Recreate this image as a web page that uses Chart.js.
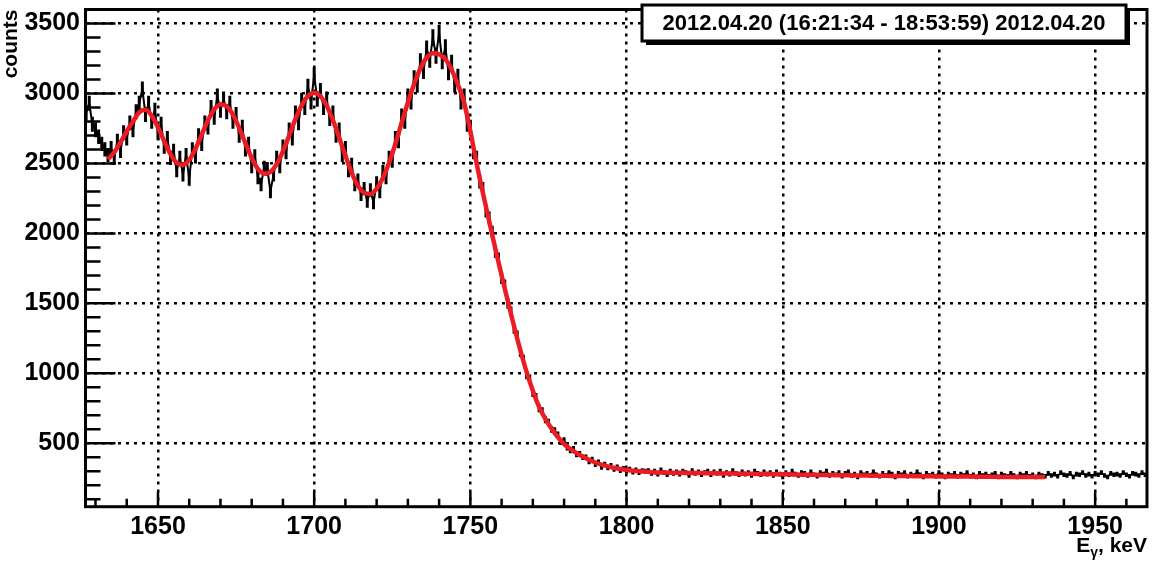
<!doctype html>
<html>

<head>
	<meta charset="utf-8">
	<title>Spectrum fit</title>
	<script src="https://cdn.jsdelivr.net/npm/chart.js@4"></script>
	<style>
		body { margin: 0; background: #fff; }
	</style>
</head>

<body>
	<canvas id="chart-area" width="1155" height="567"></canvas>

	<script>
		// measured spectrum, 1 keV bins starting at 1627 keV
		var dataStart = 1627;
		var dataStep = 1;
		var counts = [
			2860, 2930, 2780, 2740, 2690, 2640, 2600, 2560, 2610, 2540,
			2660, 2590, 2720, 2680, 2790, 2740, 2870, 2930, 3030, 2850,
			2930, 2800, 2880, 2720, 2780, 2620, 2680, 2540, 2590, 2450,
			2540, 2420, 2560, 2390, 2600, 2550, 2700, 2640, 2790, 2760,
			2900, 2830, 2980, 2880, 2960, 2870, 2930, 2800, 2850, 2700,
			2760, 2600, 2640, 2480, 2550, 2400, 2350, 2470, 2460, 2300,
			2420, 2540, 2480, 2620, 2580, 2740, 2680, 2860, 2790, 2950,
			2900, 3050, 2940, 3130, 2960, 3020, 2900, 2960, 2820, 2860,
			2700, 2740, 2560, 2610, 2450, 2490, 2350, 2380, 2280, 2320,
			2230, 2310, 2220, 2360, 2300, 2440, 2400, 2540, 2520, 2680,
			2660, 2840, 2800, 2980, 2940, 3110, 3060, 3230, 3160, 3320,
			3240, 3400, 3270, 3430, 3230, 3330, 3150, 3220, 3060, 3120,
			2940, 2980, 2780, 2760, 2580, 2540, 2370, 2320, 2160, 2110,
			2010, 1870, 1820, 1680, 1630, 1500, 1440, 1320, 1270, 1150,
			1100, 990, 960, 860, 830, 750, 730, 670, 650, 600,
			590, 560, 510, 520, 470, 450, 460, 420, 425, 400,
			400, 370, 385, 350, 365, 330, 350, 325, 340, 315,
			330, 305, 320, 300, 315, 295, 310, 290, 305, 300,
			305, 285, 300, 280, 310, 290, 275, 300, 285, 295,
			280, 300, 290, 270, 305, 285, 295, 275, 290, 300,
			275, 295, 285, 300, 270, 290, 280, 305, 285, 275,
			295, 280, 290, 270, 300, 285, 275, 295, 280, 290,
			270, 295, 280, 260, 290, 275, 300, 280, 270, 290,
			285, 270, 295, 275, 265, 290, 280, 300, 270, 285,
			275, 290, 265, 285, 295, 270, 280, 260, 290, 275,
			285, 270, 295, 275, 265, 285, 270, 290, 280, 260,
			285, 275, 290, 265, 280, 270, 295, 275, 260, 285,
			270, 280, 265, 290, 275, 260, 280, 270, 285, 265,
			280, 270, 290, 265, 275, 260, 285, 270, 280, 265,
			275, 285, 260, 280, 270, 265, 285, 270, 260, 280,
			270, 285, 265, 275, 260, 280, 270, 265, 285, 270,
			280, 265, 290, 275, 270, 285, 260, 280, 275, 290,
			270, 280, 265, 285, 275, 290, 270, 260, 285, 275,
			280, 270, 290, 275, 265, 285, 280, 270, 290, 275,
		];

		// fit curve, sampled every 2 keV from 1634 keV
		var fitStart = 1634;
		var fitStep = 2;
		var fitValues = [
			2530, 2580, 2650, 2730, 2800, 2865, 2883, 2840, 2759, 2659,
			2567, 2504, 2490, 2525, 2604, 2706, 2808, 2887, 2922, 2909,
			2849, 2753, 2644, 2539, 2461, 2426, 2439, 2495, 2587, 2700,
			2817, 2915, 2982, 3005, 2980, 2914, 2809, 2686, 2555, 2435,
			2341, 2290, 2282, 2320, 2396, 2507, 2639, 2790, 2935, 3068,
			3179, 3255, 3288, 3280, 3245, 3170, 3065, 2935, 2730, 2500,
			2290, 2090, 1890, 1700, 1515, 1335, 1165, 1010, 875, 760,
			675, 605, 545, 495, 460, 430, 405, 382, 363, 348,
			335, 325, 316, 309, 304, 300, 297, 294, 292, 291,
			290, 290, 289, 288, 288, 287, 286, 286, 285, 284,
			284, 283, 282, 282, 281, 280, 280, 279, 278, 278,
			277, 276, 276, 275, 274, 274, 273, 272, 272, 271,
			270, 270, 269, 268, 268, 267, 267, 266, 266, 265,
			265, 264, 264, 263, 263, 263, 262, 262, 262, 261,
			261, 261, 261, 260, 260, 260, 260, 260, 260, 260,
			260,
		];

		var xTicks = [1650, 1700, 1750, 1800, 1850, 1900, 1950];
		var yTicks = [500, 1000, 1500, 2000, 2500, 3000, 3500];
		var xRange = [1626.8, 1966.6];
		var yRange = [47, 3600];
		var xMinorStep = 10;
		var yMinorStep = 100;

		var yTitle = 'counts';
		var boxText = '2012.04.20 (16:21:34 - 18:53:59) 2012.04.20';

		var dataPoints = counts.map(function (c, i) {
			return { x: dataStart + i * dataStep, y: c };
		});
		var fitPoints = fitValues.map(function (v, i) {
			return { x: fitStart + i * fitStep, y: v };
		});

		var FONT = '"Liberation Sans", Arial, sans-serif';

		// ROOT-like frame: error bars, inward ticks, box, axis title with subscript
		var rootLook = {
			id: 'rootLook',
			beforeDatasetsDraw: function (chart) {
				var ctx = chart.ctx, xs = chart.scales.x, ys = chart.scales.y, a = chart.chartArea;
				ctx.save();
				ctx.beginPath();
				ctx.rect(a.left, a.top, a.right - a.left, a.bottom - a.top);
				ctx.clip();
				ctx.strokeStyle = '#000';
				ctx.lineWidth = 3;
				ctx.beginPath();
				counts.forEach(function (c, i) {
					var px = xs.getPixelForValue(dataStart + i * dataStep);
					var e = Math.sqrt(c);
					ctx.moveTo(px, ys.getPixelForValue(c - e));
					ctx.lineTo(px, ys.getPixelForValue(c + e));
				});
				ctx.stroke();
				ctx.restore();
			},
			afterDatasetsDraw: function (chart) {
				var ctx = chart.ctx, xs = chart.scales.x, ys = chart.scales.y, a = chart.chartArea;
				var v, p, len;
				ctx.save();
				ctx.strokeStyle = '#000';
				ctx.lineWidth = 2.5;
				ctx.beginPath();
				for (v = Math.ceil(xRange[0] / xMinorStep) * xMinorStep; v <= xRange[1]; v += xMinorStep) {
					p = xs.getPixelForValue(v);
					len = xTicks.indexOf(v) >= 0 ? 15 : 8;
					ctx.moveTo(p, a.bottom);
					ctx.lineTo(p, a.bottom - len);
				}
				for (v = Math.ceil(yRange[0] / yMinorStep) * yMinorStep; v <= yRange[1]; v += yMinorStep) {
					p = ys.getPixelForValue(v);
					len = yTicks.indexOf(v) >= 0 ? 30 : 15;
					ctx.moveTo(a.left, p);
					ctx.lineTo(a.left + len, p);
				}
				ctx.stroke();
				ctx.lineWidth = 3;
				ctx.strokeRect(a.left, a.top, a.right - a.left, a.bottom - a.top);
				ctx.restore();
			},
			afterDraw: function (chart) {
				var ctx = chart.ctx, a = chart.chartArea;
				ctx.save();
				// date box at the top
				var bw = 484, bh = 36;
				var bx = a.right - 21 - bw, by = a.top - 4.5;
				ctx.fillStyle = '#000';
				ctx.fillRect(bx + 4, by + 4, bw, bh);
				ctx.fillStyle = '#fff';
				ctx.fillRect(bx, by, bw, bh);
				ctx.lineWidth = 3;
				ctx.strokeStyle = '#000';
				ctx.strokeRect(bx, by, bw, bh);
				ctx.fillStyle = '#000';
				ctx.font = 'bold 22px ' + FONT;
				ctx.textAlign = 'center';
				ctx.textBaseline = 'middle';
				ctx.fillText(boxText, bx + bw / 2, by + bh / 2 + 1);

				// x axis title E_gamma, keV
				var big = 'bold 21px ' + FONT, small = 'bold 14px ' + FONT;
				ctx.font = big;
				var w1 = ctx.measureText('E').width, w3 = ctx.measureText(', keV').width;
				ctx.font = small;
				var w2 = ctx.measureText('γ').width;
				var x0 = a.right - (w1 + w2 + w3), base = a.bottom + 45;
				ctx.textAlign = 'left';
				ctx.textBaseline = 'alphabetic';
				ctx.font = big;
				ctx.fillText('E', x0, base);
				ctx.font = small;
				ctx.fillText('γ', x0 + w1, base + 5);
				ctx.font = big;
				ctx.fillText(', keV', x0 + w1 + w2, base);
				ctx.restore();
			}
		};

		Chart.defaults.font.family = FONT;
		Chart.defaults.color = '#000';

		function plainLabel(value) {
			return String(value);
		}

		var ctx = document.getElementById('chart-area').getContext('2d');
		var chart = new Chart(ctx, {
			type: 'line',
			data: {
				datasets: [
					{
						label: 'fit',
						data: fitPoints,
						borderColor: '#ec1c24',
						borderWidth: 4.5,
						pointRadius: 0,
						tension: 0.4,
						cubicInterpolationMode: 'monotone',
					},
					{
						label: 'counts',
						data: dataPoints,
						borderColor: '#000',
						borderWidth: 2,
						pointRadius: 0,
						tension: 0,
					},
				],
			},
			options: {
				responsive: false,
				animation: false,
				layout: { padding: { top: 9.5, right: 8, left: 0, bottom: 0 } },
				plugins: {
					legend: { display: false },
					tooltip: { enabled: false },
				},
				scales: {
					x: {
						type: 'linear',
						min: xRange[0],
						max: xRange[1],
						afterBuildTicks: function (scale) {
							scale.ticks = xTicks.map(function (v) { return { value: v }; });
						},
						afterFit: function (scale) {
							scale.height = 60.3;
							scale.paddingLeft = 0;
							scale.paddingRight = 0;
						},
						grid: { color: '#000', lineWidth: 2.5, drawTicks: false },
						border: { display: false, dash: [3, 5] },
						ticks: {
							padding: 5,
							maxRotation: 0,
							autoSkip: false,
							callback: plainLabel,
							font: { size: 25, weight: 'bold' },
						},
					},
					y: {
						min: yRange[0],
						max: yRange[1],
						afterBuildTicks: function (scale) {
							scale.ticks = yTicks.map(function (v) { return { value: v }; });
						},
						afterFit: function (scale) {
							scale.width = 85.5;
							scale.paddingTop = 0;
							scale.paddingBottom = 0;
						},
						grid: { color: '#000', lineWidth: 2.5, drawTicks: false },
						border: { display: false, dash: [3, 5] },
						ticks: {
							padding: 5.5,
							callback: plainLabel,
							font: { size: 25, weight: 'bold' },
						},
						title: {
							display: true,
							text: yTitle,
							align: 'end',
							padding: 0,
							font: { size: 21, weight: 'bold', lineHeight: 1.1 },
						},
					},
				},
			},
			plugins: [rootLook],
		});
	</script>
</body>

</html>
